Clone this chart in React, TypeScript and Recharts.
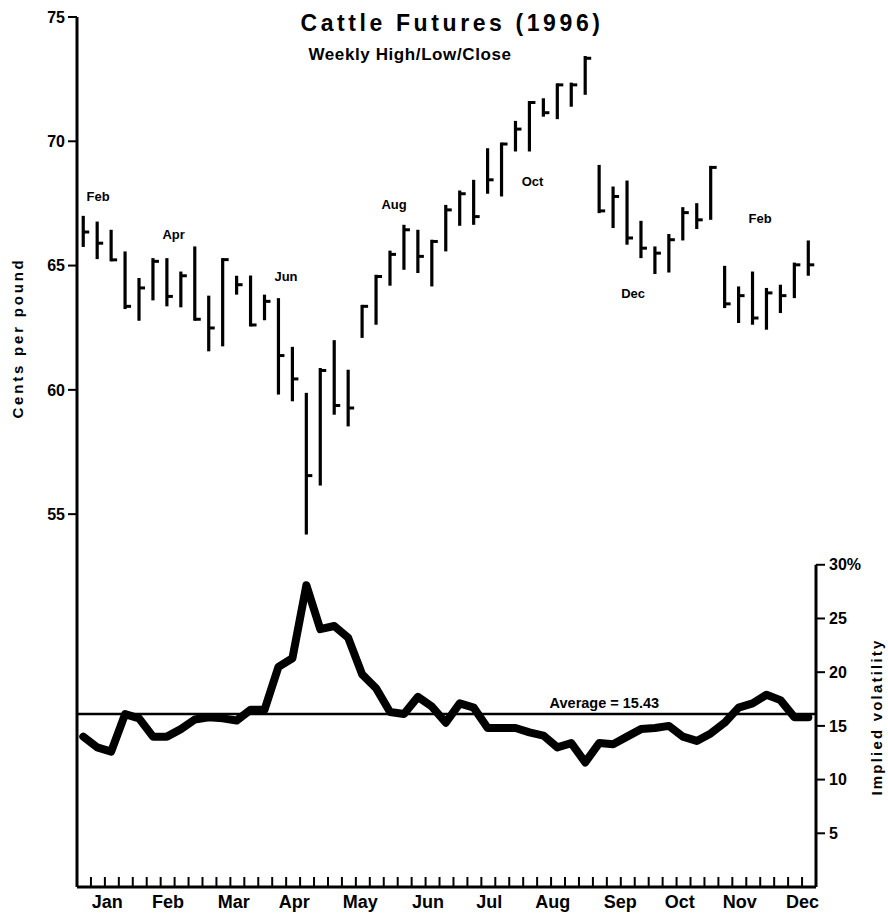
import React from 'react';
import { ComposedChart, Bar, Line, Scatter, XAxis, YAxis, ReferenceLine } from 'recharts';

const FONT = '"Liberation Sans", Arial, Helvetica, sans-serif';

// weekly high / low / close (cents per pound), nearby contract
const highs = [
  67.0, 66.77, 66.44, 65.57, 64.5, 65.3, 65.3, 64.76, 65.77, 63.79, 65.3, 64.59, 64.6, 63.83,
  63.69, 61.73, 59.88, 60.88, 62.0, 60.81, 63.42, 64.63, 65.6, 66.64, 66.44, 66.04, 67.44,
  68.02, 68.45, 69.72, 69.95, 70.82, 71.62, 71.73, 72.33, 72.36, 73.43, 69.05, 68.18, 68.42,
  66.8, 65.77, 66.27, 67.35, 67.51, 69.01, 64.99, 64.16, 64.76, 64.1, 64.23, 65.12, 66.01,
];
const lows = [
  65.75, 65.26, 65.17, 63.25, 62.78, 63.6, 63.36, 63.32, 62.78, 61.55, 61.75, 63.83, 62.55,
  62.8, 59.81, 59.54, 54.18, 56.15, 59.0, 58.53, 62.09, 62.62, 64.19, 64.83, 64.7, 64.16,
  65.57, 66.6, 66.64, 67.89, 67.78, 69.59, 69.59, 70.99, 70.89, 71.39, 71.87, 67.11, 66.51,
  65.84, 65.3, 64.66, 64.72, 66.01, 66.47, 66.84, 63.29, 62.69, 62.62, 62.42, 63.09, 63.69,
  64.59,
];
const closes = [
  66.35, 65.9, 65.23, 63.36, 64.1, 65.17, 63.76, 64.59, 62.82, 62.49, 65.25, 64.23, 62.6,
  63.56, 61.38, 60.44, 56.55, 60.78, 59.37, 59.27, 63.4, 64.56, 65.45, 66.44, 65.37, 65.97,
  67.24, 67.89, 66.97, 68.45, 69.92, 70.49, 71.56, 71.15, 72.27, 72.27, 73.34, 67.2, 67.78,
  66.11, 65.7, 65.5, 66.04, 67.13, 66.84, 68.98, 63.46, 63.79, 62.89, 63.9, 63.79, 65.03,
  65.03,
];
// implied volatility (%), one reading a week
const vols = [
  14.0, 13.0, 12.6, 16.1, 15.7, 14.0, 14.0, 14.7, 15.6, 15.8, 15.7, 15.5, 16.5, 16.5, 20.5,
  21.3, 28.1, 24.0, 24.3, 23.2, 19.8, 18.5, 16.3, 16.1, 17.7, 16.8, 15.3, 17.1, 16.7, 14.8,
  14.8, 14.8, 14.4, 14.1, 13.0, 13.4, 11.6, 13.4, 13.3, 14.0, 14.7, 14.8, 15.0, 14.0, 13.6,
  14.3, 15.3, 16.7, 17.1, 17.9, 17.4, 15.8, 15.8,
];

const monthNames = ['Jan', 'Feb', 'Mar', 'Apr', 'May', 'Jun', 'Jul', 'Aug', 'Sep', 'Oct', 'Nov', 'Dec'];
const monthPos = [2.13, 6.41, 11.03, 15.28, 19.94, 24.7, 29.0, 33.47, 38.23, 42.41, 46.63, 51.05];
const weekTicks = Array.from({ length: 52 }, (_, i) => i + 1);
const priceTicks = [55, 60, 65, 70, 75];
const volTicks = [5, 10, 15, 20, 25, 30];

// contract month notes on the price panel
const contractNames = ['Feb', 'Apr', 'Jun', 'Aug', 'Oct', 'Dec', 'Feb'];
const contractWeek = [1.51, 6.93, 14.99, 22.74, 32.67, 39.88, 48.99];
const contractPrice = [67.79, 66.26, 64.57, 67.47, 68.4, 63.88, 66.88];

const averageVol = 15.43;
const averageLine = 16.1; // where the original draws it

const data = highs.map((h, i) => ({
  x: i + 0.45,
  range: [lows[i], h],
  high: h,
  low: lows[i],
  close: closes[i],
  vol: vols[i],
}));
const contractNotes = contractNames.map((name, i) => ({ x: contractWeek[i], y: contractPrice[i], name }));
const averageNote = [{ x: 37.82, y: 17.15, name: `Average  = ${averageVol}` }];

const HlcShape = (props: any) => {
  const { x, y, width, height, payload } = props;
  if (x == null || y == null || !payload) return null;
  const top = Math.min(y, y + height);
  const h = Math.abs(height);
  const cx = x + width / 2;
  const span = payload.high - payload.low;
  let cy = top + (span ? ((payload.high - payload.close) / span) * h : 0);
  cy = Math.max(top + 1.5, Math.min(top + h - 1.5, cy));
  return (
    <g>
      <line x1={cx} x2={cx} y1={top} y2={top + h} stroke="#000" strokeWidth={3.2} />
      <line x1={cx} x2={cx + 6} y1={cy} y2={cy} stroke="#000" strokeWidth={3} />
    </g>
  );
};

const NoteText = (size: number) => (props: any) => {
  const { cx, cy, payload } = props;
  if (cx == null || cy == null) return null;
  return (
    <text x={cx} y={cy} textAnchor="middle" dominantBaseline="central" fill="#000"
      fontSize={size} fontWeight={700} fontFamily={FONT}>
      {payload.name}
    </text>
  );
};

// week axis keeps its tick lines but shows no labels
const BlankTick = () => <g />;

const tickStyle = { fill: '#000', fontSize: 16, fontWeight: 700, fontFamily: FONT };

export default function App() {
  return (
    <div style={{ position: 'absolute', left: 0, top: 0, width: 888, height: 918, background: '#fff' }}>
      <div style={{
        position: 'absolute', left: 452, top: 12, transform: 'translateX(-50%)', whiteSpace: 'nowrap',
        fontFamily: FONT, fontWeight: 700, fontSize: 23, lineHeight: '23px', letterSpacing: 3.6,
      }}>
        Cattle Futures (1996)
      </div>
      <div style={{
        position: 'absolute', left: 410, top: 46, transform: 'translateX(-50%)', whiteSpace: 'nowrap',
        fontFamily: FONT, fontWeight: 700, fontSize: 17, lineHeight: '17px', letterSpacing: 0.6,
      }}>
        Weekly High/Low/Close
      </div>
      <ComposedChart width={888} height={918} data={data} margin={{ top: 17, right: 12, bottom: 0, left: 17 }}>
        <XAxis
          xAxisId="w" type="number" dataKey="x" domain={[0, 53]} allowDataOverflow
          ticks={weekTicks} interval={0} tick={BlankTick} mirror height={1} tickSize={10}
          tickLine={{ stroke: '#000', strokeWidth: 2 }} axisLine={{ stroke: '#000', strokeWidth: 3 }}
        />
        <XAxis
          xAxisId="m" type="number" domain={[0, 53]} allowDataOverflow ticks={monthPos} interval={0}
          tickFormatter={(v: number) => monthNames[monthPos.indexOf(v)] ?? ''}
          axisLine={false} tickLine={false} tickSize={0} tickMargin={8} height={31}
          tick={{ ...tickStyle, fontSize: 18 }}
        />
        <YAxis
          yAxisId="price" domain={[40, 75]} allowDataOverflow ticks={priceTicks} interval={0} width={60}
          tick={tickStyle} tickSize={9} tickMargin={3}
          tickLine={{ stroke: '#000', strokeWidth: 2 }} axisLine={{ stroke: '#000', strokeWidth: 3 }}
          label={{
            value: 'Cents per pound', angle: -90, position: 'center', dx: -29, dy: -114,
            fill: '#000', fontSize: 15, fontWeight: 700, fontFamily: FONT, letterSpacing: 2.8,
          }}
        />
        <YAxis
          yAxisId="vol" orientation="right" domain={[0, 81]} allowDataOverflow ticks={volTicks}
          interval={0} width={60} tick={tickStyle} tickSize={9} tickMargin={4}
          tickFormatter={(v: number) => (v === 30 ? '30%' : String(v))}
          tickLine={{ stroke: '#000', strokeWidth: 2 }} axisLine={false}
          label={{
            value: 'Implied volatility', angle: -90, position: 'center', dx: 31, dy: 265,
            fill: '#000', fontSize: 15, fontWeight: 700, fontFamily: FONT, letterSpacing: 2.2,
          }}
        />
        <ReferenceLine
          xAxisId="w" yAxisId="vol" ifOverflow="visible" stroke="#000" strokeWidth={3}
          segment={[{ x: 53, y: 0 }, { x: 53, y: 30 }]}
        />
        <ReferenceLine xAxisId="w" yAxisId="vol" y={averageLine} stroke="#000" strokeWidth={2.5} />
        <Bar
          xAxisId="w" yAxisId="price" dataKey="range" barSize={8} shape={HlcShape}
          isAnimationActive={false}
        />
        <Line
          xAxisId="w" yAxisId="vol" dataKey="vol" type="linear" stroke="#000" strokeWidth={8}
          strokeLinejoin="round" strokeLinecap="round" dot={false} activeDot={false}
          isAnimationActive={false}
        />
        <Scatter
          xAxisId="w" yAxisId="price" data={contractNotes} dataKey="y" shape={NoteText(13)}
          isAnimationActive={false}
        />
        <Scatter
          xAxisId="w" yAxisId="vol" data={averageNote} dataKey="y" shape={NoteText(14.5)}
          isAnimationActive={false}
        />
      </ComposedChart>
    </div>
  );
}
